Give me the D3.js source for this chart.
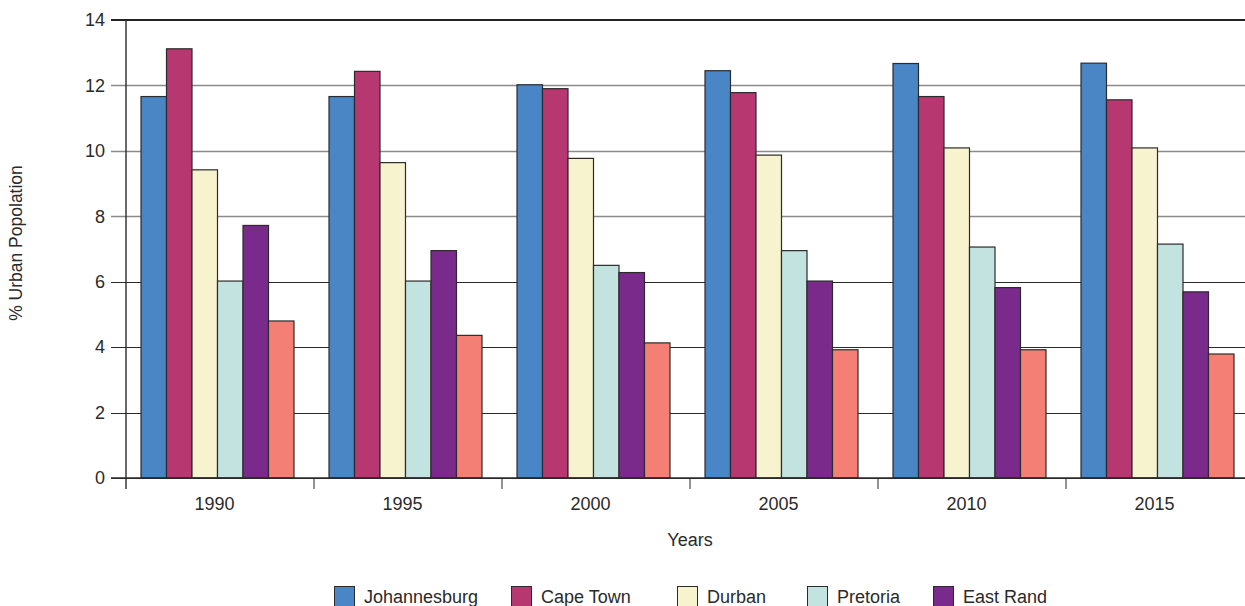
<!DOCTYPE html>
<html>
<head>
<meta charset="utf-8">
<script src="https://cdn.jsdelivr.net/npm/d3@7"></script>
<style>
  html, body { margin: 0; padding: 0; background: #fff; }
  svg { display: block; font-family: "Liberation Sans", Arial, sans-serif; }
</style>
</head>
<body>
<svg id="chart" width="1245" height="606"></svg>
<script>
// Share of the national urban population living in each metro area (%)
const years = ["1990", "1995", "2000", "2005", "2010", "2015"];
const cities = ["Johannesburg", "Cape Town", "Durban", "Pretoria", "East Rand", "Port Elizabeth"];
const johannesburg = [11.66, 11.66, 12.02, 12.45, 12.67, 12.68];
const capeTown     = [13.12, 12.43, 11.90, 11.78, 11.66, 11.56];
const durban       = [9.42, 9.64, 9.77, 9.87, 10.09, 10.09];
const pretoria     = [6.02, 6.02, 6.50, 6.95, 7.06, 7.15];
const eastRand     = [7.72, 6.95, 6.28, 6.02, 5.82, 5.69];
const portElizabeth = [4.80, 4.36, 4.13, 3.92, 3.92, 3.79];
const yTicks = [0, 2, 4, 6, 8, 10, 12, 14];

const seriesValues = [johannesburg, capeTown, durban, pretoria, eastRand, portElizabeth];
const colors = ["#4a86c6", "#b73770", "#f8f3cf", "#c3e3e0", "#7a2a8b", "#f47f74"];

const svg = d3.select("#chart");
const plot = { left: 126, top: 20, bottom: 478, step: 188 };

const x = d3.scaleBand()
  .domain(years)
  .range([plot.left, plot.left + plot.step * years.length])
  .paddingInner(0).paddingOuter(0);

// bars sit in a 153px cluster, 15px in from the left of each band
const xInner = d3.scaleBand()
  .domain(cities)
  .range([15, 15 + 153]);

const y = d3.scaleLinear().domain([0, 14]).range([plot.bottom, plot.top]);

const lineColor = v => v >= 8 ? "#8a8a8a" : "#2a2a2a";
const lineWidth = v => v >= 8 ? 1.6 : 1.1;

// horizontal grid lines, extending past the right edge
svg.append("g").selectAll("line")
  .data(yTicks.filter(v => v < 14))
  .join("line")
  .attr("x1", plot.left - 15).attr("x2", 1260)
  .attr("y1", d => Math.round(y(d)) + 0.5).attr("y2", d => Math.round(y(d)) + 0.5)
  .attr("stroke", d => lineColor(d))
  .attr("stroke-width", d => lineWidth(d));

// top frame line
svg.append("line")
  .attr("x1", plot.left - 15).attr("x2", 1260)
  .attr("y1", y(14)).attr("y2", y(14))
  .attr("stroke", "#222").attr("stroke-width", 2.2);

// y axis labels
const yAxis = d3.axisLeft(y).tickValues(yTicks).tickSize(0).tickPadding(21);
const yG = svg.append("g").attr("transform", `translate(${plot.left},0)`).call(yAxis);
yG.select(".domain").remove();
yG.selectAll("text")
  .attr("font-size", 18).attr("fill", "#2a2a2a")
  .attr("font-family", "'Liberation Sans', Arial, sans-serif");

// bars
const groups = svg.append("g").selectAll("g")
  .data(years)
  .join("g")
  .attr("transform", d => `translate(${x(d)},0)`);

groups.selectAll("rect")
  .data((yr, i) => cities.map((c, k) => ({ city: c, k, value: seriesValues[k][i] })))
  .join("rect")
  .attr("x", d => xInner(d.city))
  .attr("width", xInner.bandwidth())
  .attr("y", d => y(d.value))
  .attr("height", d => y(0) - y(d.value))
  .attr("fill", d => colors[d.k])
  .attr("stroke", "#2b2b2b")
  .attr("stroke-width", 1.2);

// baseline
svg.append("line")
  .attr("x1", plot.left - 15).attr("x2", 1260)
  .attr("y1", y(0)).attr("y2", y(0))
  .attr("stroke", "#2a2a2a").attr("stroke-width", 1.3);

// y axis line
svg.append("line")
  .attr("x1", plot.left).attr("x2", plot.left)
  .attr("y1", plot.top).attr("y2", plot.bottom + 11)
  .attr("stroke", "#2a2a2a").attr("stroke-width", 1.4);

// category separators below the baseline
svg.append("g").selectAll("line")
  .data(years.slice(1))
  .join("line")
  .attr("x1", d => x(d)).attr("x2", d => x(d))
  .attr("y1", plot.bottom + 1).attr("y2", plot.bottom + 11)
  .attr("stroke", "#666").attr("stroke-width", 1.4);

// x labels centred on each bar cluster
svg.append("g").selectAll("text")
  .data(years)
  .join("text")
  .attr("x", d => x(d) + 15 + 153 / 2 - 3)
  .attr("y", 510)
  .attr("text-anchor", "middle")
  .attr("font-size", 18).attr("fill", "#2a2a2a")
  .text(d => d);

// axis titles
svg.append("text")
  .attr("x", 690).attr("y", 546)
  .attr("text-anchor", "middle")
  .attr("font-size", 18).attr("fill", "#2a2a2a")
  .text("Years");

svg.append("text")
  .attr("transform", "translate(22,243) rotate(-90)")
  .attr("text-anchor", "middle")
  .attr("font-size", 17.5).attr("fill", "#2a2a2a")
  .text("% Urban Popolation");

// legend row
const legendX = [334, 511, 677, 807, 933];
const legend = svg.append("g").selectAll("g")
  .data(legendX)
  .join("g")
  .attr("transform", (lx) => `translate(${lx},586)`);

legend.append("rect")
  .attr("x", 0.5).attr("y", 0.5)
  .attr("width", 20).attr("height", 20)
  .attr("fill", (lx, i) => colors[i])
  .attr("stroke", "#2b2b2b").attr("stroke-width", 1);

legend.append("text")
  .attr("x", 30).attr("y", 17)
  .attr("font-size", 18).attr("fill", "#2a2a2a")
  .text((lx, i) => cities[i]);
</script>
</body>
</html>
